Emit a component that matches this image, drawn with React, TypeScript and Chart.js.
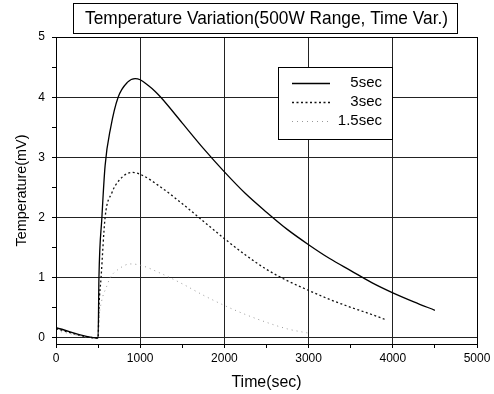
import React, { useEffect, useRef } from "react";
import { Chart, registerables } from "chart.js";
Chart.register(...registerables);

const TITLE = "Temperature Variation(500W Range, Time Var.)";
const X_TITLE = "Time(sec)";
const Y_TITLE = "Temperature(mV)";

const t5 = [0, 500, 510, 545, 583, 650, 738, 850, 940, 1000, 1100, 1175, 1250, 1500, 1750, 2000, 2250, 2500, 2750, 3000, 3250, 3500, 3750, 4000, 4250, 4500];
const v5 = [0.17, 0, 1.0, 2.0, 2.86, 3.5, 4.0, 4.25, 4.31, 4.29, 4.19, 4.1, 3.99, 3.57, 3.15, 2.76, 2.4, 2.09, 1.8, 1.55, 1.32, 1.12, 0.92, 0.75, 0.6, 0.46];

const t3 = [0, 500, 510, 535, 583, 663, 750, 900, 1000, 1250, 1500, 1750, 2000, 2250, 2500, 2750, 3000, 3250, 3500, 3750, 3905];
const v3 = [0.15, 0, 0.5, 1.0, 2.0, 2.41, 2.62, 2.75, 2.72, 2.5, 2.23, 1.94, 1.65, 1.38, 1.14, 0.95, 0.79, 0.64, 0.51, 0.39, 0.31];

const t15 = [0, 500, 510, 540, 600, 643, 750, 880, 1000, 1250, 1500, 1750, 2000, 2250, 2500, 2750, 3000];
const v15 = [0.12, 0, 0.3, 0.6, 0.85, 1.0, 1.15, 1.23, 1.21, 1.07, 0.9, 0.71, 0.54, 0.39, 0.26, 0.15, 0.08];

const seriesLabels = ["5sec", "3sec", "1.5sec"];
const xTickVals = [0, 500, 1000, 1500, 2000, 2500, 3000, 3500, 4000, 4500, 5000];
const yTickVals = [0, 0.5, 1, 1.5, 2, 2.5, 3, 3.5, 4, 4.5, 5];

const FONT = '"Liberation Sans", Arial, Helvetica, sans-serif';

function drawFitted(ctx: any, text: string, cx: number, baseY: number, size: number, targetW: number) {
  ctx.save();
  ctx.font = size + "px " + FONT;
  const w = ctx.measureText(text).width;
  const sx = targetW / w;
  ctx.translate(cx, baseY);
  ctx.scale(sx, 1);
  ctx.textAlign = "center";
  ctx.textBaseline = "alphabetic";
  ctx.fillText(text, 0, 0);
  ctx.restore();
}

const decor = {
  id: "decor",
  afterDraw(chart: any) {
    const { ctx, chartArea: a } = chart;
    ctx.save();
    ctx.strokeStyle = "#000";
    ctx.lineWidth = 1;
    ctx.strokeRect(Math.round(a.left) + 0.5, Math.round(a.top) + 0.5, Math.round(a.right - a.left), Math.round(a.bottom - a.top));

    // title box
    ctx.fillStyle = "#fff";
    ctx.fillRect(73.5, 3.5, 384, 30);
    ctx.strokeRect(73.5, 3.5, 384, 30);
    ctx.fillStyle = "#000";
    drawFitted(ctx, TITLE, 266.5, 24, 19, 363);

    // axis titles
    drawFitted(ctx, X_TITLE, (a.left + a.right) / 2, 387, 16, 70);
    ctx.save();
    ctx.translate(26, (a.top + a.bottom) / 2);
    ctx.rotate(-Math.PI / 2);
    drawFitted(ctx, Y_TITLE, 0, 0, 15, 112);
    ctx.restore();

    // legend
    const lx = 278.5, ly = 67.5, lw = 114, lh = 72;
    ctx.fillStyle = "#fff";
    ctx.fillRect(lx, ly, lw, lh);
    ctx.strokeRect(lx, ly, lw, lh);
    ctx.font = "15px " + FONT;
    ctx.textAlign = "right";
    ctx.textBaseline = "middle";
    chart.data.datasets.forEach((ds: any, i: number) => {
      const y = 83 + i * 19;
      ctx.save();
      ctx.strokeStyle = ds.borderColor;
      ctx.lineWidth = ds.borderWidth;
      ctx.setLineDash(ds.borderDash || []);
      ctx.beginPath();
      ctx.moveTo(292, y + 0.5);
      ctx.lineTo(330, y + 0.5);
      ctx.stroke();
      ctx.restore();
      ctx.fillStyle = "#000";
      ctx.fillText(ds.label, 382, y);
    });
    ctx.restore();
  },
};

export default function App() {
  const ref = useRef<HTMLCanvasElement>(null);
  useEffect(() => {
    const mk = (t: number[], v: number[]) => t.map((x, i) => ({ x, y: v[i] }));
    const chart = new Chart(ref.current!, {
      type: "line",
      data: {
        datasets: [
          { label: seriesLabels[0], data: mk(t5, v5), borderColor: "#000", borderWidth: 1.3, pointRadius: 0, cubicInterpolationMode: "monotone", fill: false },
          { label: seriesLabels[1], data: mk(t3, v3), borderColor: "#111", borderWidth: 1.3, borderDash: [2, 2.5], pointRadius: 0, cubicInterpolationMode: "monotone", fill: false },
          { label: seriesLabels[2], data: mk(t15, v15), borderColor: "#999", borderWidth: 1, borderDash: [1, 4], pointRadius: 0, cubicInterpolationMode: "monotone", fill: false },
        ] as any,
      },
      options: {
        responsive: false,
        animation: false,
        devicePixelRatio: 1,
        layout: { padding: { top: 37, right: 17, left: 0, bottom: 0 } },
        plugins: { legend: { display: false }, tooltip: { enabled: false }, title: { display: false } },
        scales: {
          x: {
            type: "linear",
            min: 0,
            max: 5000,
            afterBuildTicks: (s: any) => { s.ticks = xTickVals.map((v) => ({ value: v })); },
            afterFit: (s: any) => { s.height = 50; },
            ticks: {
              autoSkip: false,
              maxRotation: 0,
              color: "#000",
              padding: 3,
              font: { family: FONT, size: 12 },
              callback: (v: any) => (Number(v) % 1000 === 0 ? String(v) : ""),
            },
            grid: {
              color: (c: any) => (c.tick && c.tick.value % 1000 === 0 ? "#222" : "rgba(0,0,0,0)"),
              tickColor: "#000",
              tickLength: 4,
              lineWidth: 1,
            },
            border: { color: "#000", width: 1 },
          },
          y: {
            type: "linear",
            min: -0.1,
            max: 5,
            afterBuildTicks: (s: any) => { s.ticks = yTickVals.map((v) => ({ value: v })); },
            afterFit: (s: any) => { s.width = 56; },
            ticks: {
              autoSkip: false,
              color: "#000",
              padding: 7,
              font: { family: FONT, size: 12 },
              callback: (v: any) => (Number(v) % 1 === 0 ? String(v) : ""),
            },
            grid: {
              color: (c: any) => (c.tick && c.tick.value % 1 === 0 ? "#222" : "rgba(0,0,0,0)"),
              tickColor: "#000",
              tickLength: 4,
              lineWidth: 1,
            },
            border: { color: "#000", width: 1 },
          },
        },
      } as any,
      plugins: [decor],
    });
    return () => chart.destroy();
  }, []);
  return (
    <div style={{ position: "fixed", left: 0, top: 0, width: 494, height: 394, background: "#fff" }}>
      <canvas ref={ref} width={494} height={394} style={{ display: "block" }} />
    </div>
  );
}
